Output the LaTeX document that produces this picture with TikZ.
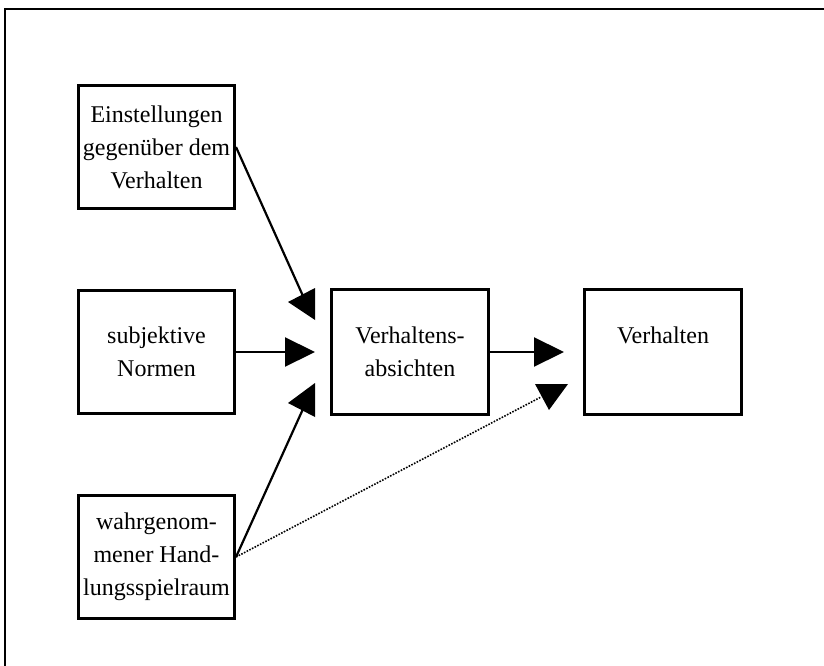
\documentclass[tikz,border=0pt]{standalone}
\usepackage{fontspec}
\setmainfont{Liberation Serif}
\usetikzlibrary{arrows.meta}
\begin{document}
\begin{tikzpicture}[x=1pt,y=-1pt,
  box/.style={draw, line width=3pt, minimum width=156pt, minimum height=123pt,
    inner sep=0pt, align=center, font=\fontsize{24}{33}\selectfont},
  conn/.style={line width=2.2pt},
  tipconn/.style={line width=2.2pt, -{Triangle[length=30pt,width=29pt]}},
  dotconn/.style={line width=1.6pt, dash pattern=on 1.6pt off 1.4pt},
  head/.style={fill=black}]
\useasboundingbox (0,0) rectangle (824,666);
\draw[line width=1.8pt] (5,666) -- (5,9) -- (824,9);

\node[box] (e) at (156.5,147) {Einstellungen\\gegenüber dem\\Verhalten};
\node[box] (s) at (156.5,352) {subjektive\\Normen};
\node[box] (w) at (156.5,557) {wahrgenom-\\mener Hand-\\lungsspielraum};
\node[box, minimum width=157pt, minimum height=125pt] (a) at (410,352) {Verhaltens-\\absichten};
\node[box, minimum width=157pt, minimum height=125pt] (v) at (663,352) {Verhalten\\\phantom{V}};

% attitudes -> intentions
\coordinate (t1) at (303,296);
\draw[conn] (e.east) -- (t1);
\fill[head] (288,302) -- (315,288) -- (315,320) -- cycle;

% norms -> intentions
\coordinate (t2) at (315,352);
\draw[tipconn] (s.east) -- (t2);

% perceived control -> intentions
\coordinate (t3) at (303,409);
\draw[conn] (w.east) -- (t3);
\fill[head] (288,403) -- (315,383) -- (315,417) -- cycle;

% intentions -> behaviour
\coordinate (t4) at (564,352);
\draw[tipconn] (a.east) -- (t4);

% perceived control -> behaviour (dotted)
\coordinate (t5) at (541,397);
\draw[dotconn] (w.east) -- (t5);
\fill[head] (535,384) -- (568,384) -- (549,410) -- cycle;
\end{tikzpicture}
\end{document}
